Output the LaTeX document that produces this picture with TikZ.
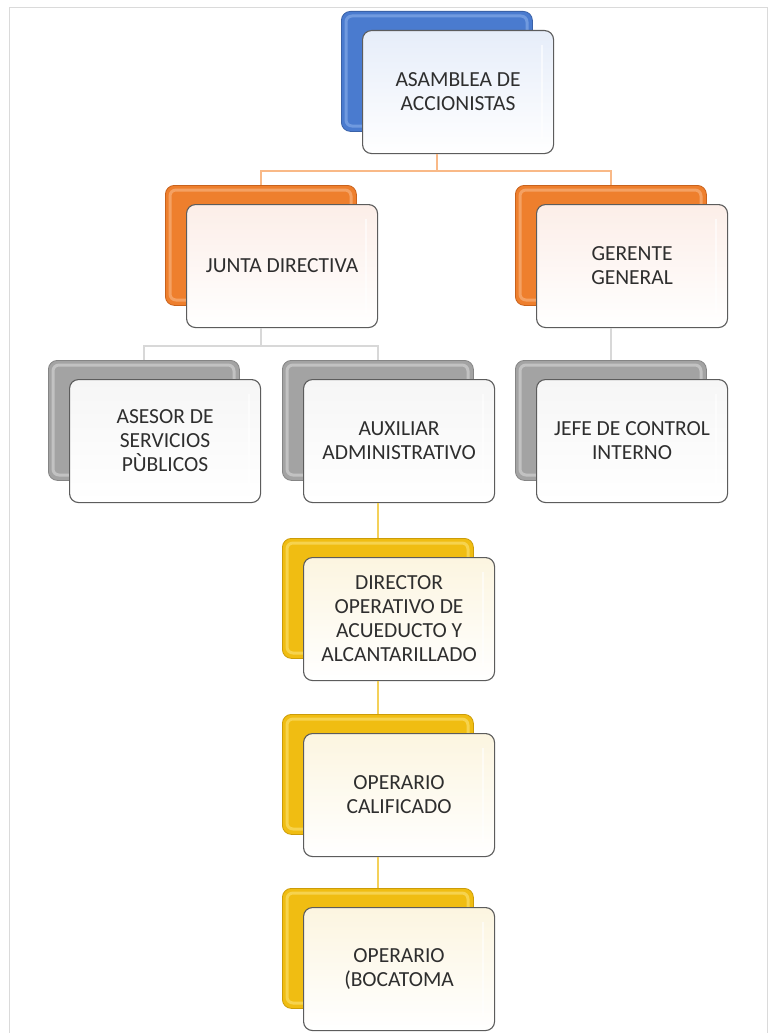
\documentclass[tikz,border=0pt]{standalone}
\usepackage{fontspec}
\setmainfont{Carlito}
\definecolor{blueA}{HTML}{4A7BCF}
\definecolor{blueL}{HTML}{8AB0EA}
\definecolor{blueD}{HTML}{3A62A8}
\definecolor{blueT}{HTML}{E6EDF9}
\definecolor{orangeA}{HTML}{EE7F2D}
\definecolor{orangeL}{HTML}{F9B987}
\definecolor{orangeD}{HTML}{C9621C}
\definecolor{orangeT}{HTML}{FCEEE8}
\definecolor{grayA}{HTML}{A3A3A3}
\definecolor{grayL}{HTML}{D8D8D8}
\definecolor{grayD}{HTML}{858585}
\definecolor{grayT}{HTML}{F6F6F6}
\definecolor{yellowA}{HTML}{F0BD12}
\definecolor{yellowL}{HTML}{FBE276}
\definecolor{yellowD}{HTML}{CC9C08}
\definecolor{yellowT}{HTML}{FCF5E0}
\definecolor{textgray}{HTML}{2E2E2E}
\definecolor{edge}{HTML}{5C5C5C}
\definecolor{frameline}{HTML}{DADADA}

\tikzset{
  backbox/.style={draw=#1D, line width=0.8pt, fill=#1A, rounded corners=9pt,
    minimum width=191pt, minimum height=120pt, inner sep=0pt},
  bevel/.style={draw=#1L, line width=3pt, opacity=0.6, rounded corners=6pt},
  frontbox/.style={draw=edge, line width=1.1pt, rounded corners=9pt,
    top color=#1T, middle color=#1T, bottom color=white,
    minimum width=191pt, minimum height=123pt, inner sep=2pt,
    align=center, text=textgray, font=\fontsize{21.5}{24}\selectfont},
  oline/.style={draw=orangeL, line width=2pt},
  gline/.style={draw=grayL, line width=2pt},
  yline/.style={draw=yellowA!70!white, line width=1.6pt},
}

% one unit of the chart: coloured back plate and the labelled front card
\newcommand\orgunit[5]{%
  \node[backbox=#4, anchor=north west] (#1b) at (#2,#3) {};
  \draw[bevel=#4] (#2+5,#3+5) rectangle (#2+186,#3+115);
  \node[frontbox=#4, anchor=north west] (#1) at (#2+21,#3+19) {#5};
  \draw[white, line width=2pt, opacity=0.6] (#2+201,#3+34) -- (#2+201,#3+128);
}

\begin{document}
\begin{tikzpicture}[x=1pt, y=-1pt]
\useasboundingbox (0,0) rectangle (772,1033);
\fill[white] (0,0) rectangle (772,1033);
\draw[frameline, line width=1pt] (9.5,1033) -- (9.5,7.5) -- (767,7.5) -- (767,1033);

% the units, top to bottom
\orgunit{asamblea}{341}{11}{blue}{\fontsize{21.5}{21}\selectfont ASAMBLEA DE\\ACCIONISTAS}
\orgunit{junta}{165}{185}{orange}{JUNTA DIRECTIVA}
\orgunit{gerente}{515}{185}{orange}{GERENTE\\GENERAL}
\orgunit{asesor}{48}{360}{gray}{ASESOR DE\\SERVICIOS\\PÙBLICOS}
\orgunit{auxiliar}{282}{360}{gray}{AUXILIAR\\ADMINISTRATIVO}
\orgunit{jefe}{515}{360}{gray}{JEFE DE CONTROL\\INTERNO}
\orgunit{director}{282}{538}{yellow}{\fontsize{21.5}{25}\selectfont DIRECTOR\\OPERATIVO DE\\ACUEDUCTO Y\\ALCANTARILLADO}
\orgunit{operario}{282}{714}{yellow}{\fontsize{21.5}{26}\selectfont OPERARIO\\CALIFICADO}
\orgunit{bocatoma}{282}{888}{yellow}{\fontsize{21.5}{26}\selectfont OPERARIO\\(BOCATOMA}

% connectors
\draw[oline] (asambleab.south |- asamblea.south) -- ++(0,17) coordinate (busA);
\draw[oline] (juntab.north) |- (busA) -| (gerenteb.north);
\draw[gline] (juntab.south |- junta.south) -- ++(0,18) coordinate (busJ);
\draw[gline] (asesorb.north) |- (busJ) -| (auxiliarb.north);
\draw[gline] (gerenteb.south |- gerente.south) -- (jefeb.north);
\draw[yline] (auxiliarb.south |- auxiliar.south) -- (directorb.north);
\draw[yline] (directorb.south |- director.south) -- (operariob.north);
\draw[yline] (operariob.south |- operario.south) -- (bocatomab.north);
\end{tikzpicture}
\end{document}
